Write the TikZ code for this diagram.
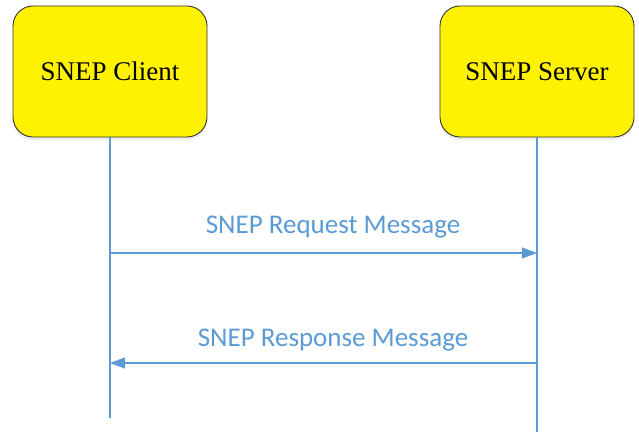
\documentclass[tikz,border=0pt]{standalone}
\usepackage{fontspec}
\setmainfont{Liberation Serif}
\newfontfamily\labelfont{Carlito}
\usetikzlibrary{arrows.meta,shadows}
\definecolor{msgblue}{RGB}{91,155,213}
\tikzset{
  party/.style={draw=black!80, line width=0.9pt, fill=yellow, rounded corners=20pt,
    minimum width=194pt, minimum height=131pt, inner sep=0pt, font=\fontsize{27}{30}\selectfont,
    drop shadow={opacity=0.15, shadow xshift=0pt, shadow yshift=-3pt}},
  lifeline/.style={draw=msgblue, line width=1.2pt},
  msg/.style={draw=msgblue, line width=1.2pt, -{Triangle[length=15pt,width=11pt]}},
  msglabel/.style={text=msgblue, font=\labelfont\fontsize{27}{30}\selectfont, inner sep=0pt, anchor=base}
}
\begin{document}
\begin{tikzpicture}[x=1pt,y=-1pt]
  \useasboundingbox (0,0) rectangle (639,433);
  % participants
  \node[party] (client) at (110,71.5) {SNEP Client};
  \node[party] (server) at (537,71.5) {SNEP Server};
  % lifeline ends
  \coordinate (cend) at (110,418);
  \coordinate (send) at (537,432);
  \draw[lifeline] (client.south) -- (cend);
  \draw[lifeline] (server.south) -- (send);
  % message anchors on the lifelines
  \coordinate (c1) at (110,253);
  \coordinate (s1) at (537,253);
  \coordinate (c2) at (110,363);
  \coordinate (s2) at (537,363);
  \draw[msg] (c1) -- (s1);
  \draw[msg] (s2) -- (c2);
  \node[msglabel] (req) at (333,233) {SNEP Request Message};
  \node[msglabel] (resp) at (333,346.5) {SNEP Response Message};
\end{tikzpicture}
\end{document}
